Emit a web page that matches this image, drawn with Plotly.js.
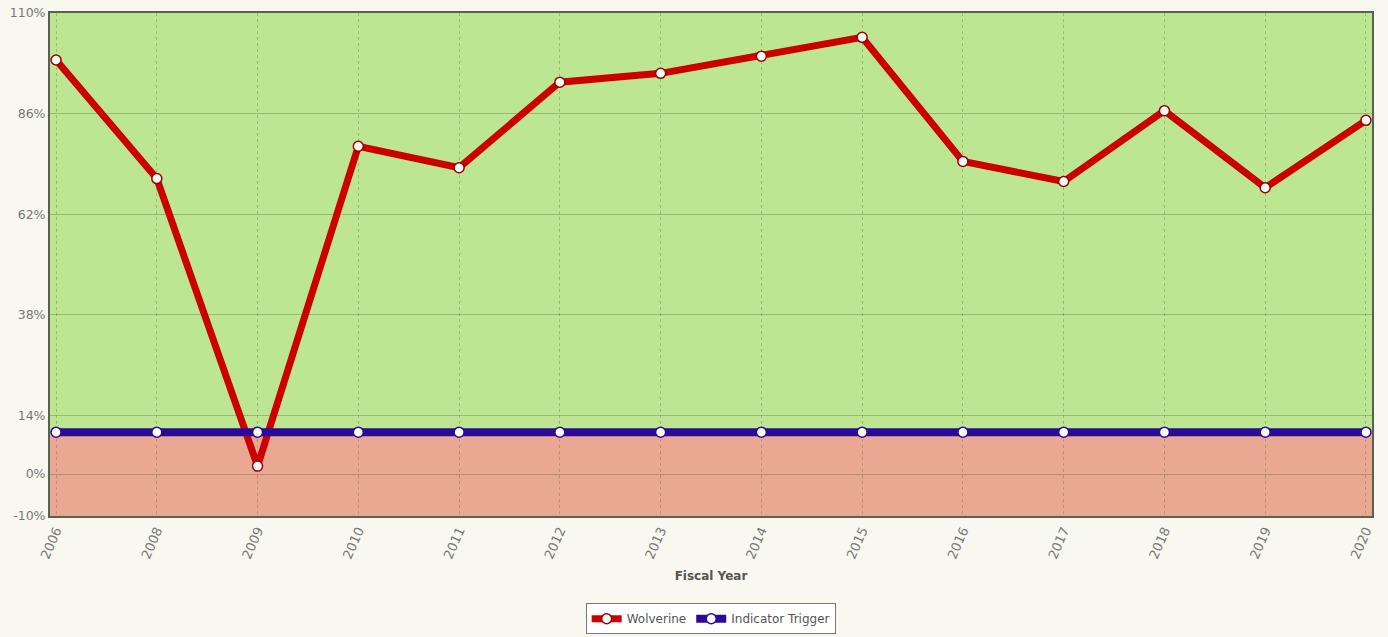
<!DOCTYPE html>
<html><head><meta charset="utf-8">
<script src="https://cdn.plot.ly/plotly-3.0.1.min.js"></script>
<style>html,body{margin:0;padding:0;background:#f8f7f0;}#chart{width:1388px;height:637px;}</style>
</head><body><div id="chart"></div>
<script>
const years = ["2006","2008","2009","2010","2011","2012","2013","2014","2015","2016","2017","2018","2019","2020"];
const wolverine = [98.8, 70.5, 1.9, 78.2, 73.1, 93.5, 95.6, 99.7, 104.2, 74.6, 69.8, 86.7, 68.3, 84.4];
const trigger = [10, 10, 10, 10, 10, 10, 10, 10, 10, 10, 10, 10, 10, 10];
const yTicks = [-10, 0, 14, 38, 62, 86, 110];
const yTickText = ["-10%", "0%", "14%", "38%", "62%", "86%", "110%"];
const triggerLevel = 10;

const traces = [
  {x: years, y: wolverine, name: "Wolverine", type: "scatter", mode: "lines+markers",
   line: {color: "#cc0000", width: 7},
   marker: {color: "#ffffff", size: 10, line: {color: "#9c0000", width: 1.5}}},
  {x: years, y: trigger, name: "Indicator Trigger", type: "scatter", mode: "lines+markers",
   line: {color: "#2a0a96", width: 8},
   marker: {color: "#ffffff", size: 10, line: {color: "#2a0a96", width: 1.5}}}
];

const layout = {
  width: 1388, height: 637,
  paper_bgcolor: "#f8f7f0", plot_bgcolor: "#f8f7f0",
  margin: {l: 50, r: 16, t: 13, b: 121},
  font: {family: "DejaVu Sans, Verdana, sans-serif", size: 12, color: "#666"},
  showlegend: true,
  hovermode: false,
  xaxis: {type: "category", range: [-0.06, 13.06], tickangle: -66,
    showgrid: true, gridcolor: "rgba(90,110,80,0.35)", griddash: "dot", gridwidth: 1,
    showline: true, linecolor: "#58624f", linewidth: 2, mirror: true,
    ticks: "", tickfont: {size: 13, color: "#777"}, automargin: false,
    title: {text: "<b>Fiscal Year</b>", font: {size: 12, color: "#555"}, standoff: 11}},
  yaxis: {range: [-10, 110], tickvals: yTicks, ticktext: yTickText,
    showgrid: true, gridcolor: "rgba(80,100,60,0.35)", gridwidth: 1, zeroline: false,
    showline: true, linecolor: "#58624f", linewidth: 2, mirror: true,
    ticks: "", tickfont: {size: 12.5, color: "#777"}, automargin: false},
  shapes: [
    {type: "rect", xref: "paper", yref: "y", x0: 0, x1: 1, y0: triggerLevel, y1: 110,
     fillcolor: "#bce692", line: {width: 0}, layer: "below"},
    {type: "rect", xref: "paper", yref: "y", x0: 0, x1: 1, y0: -10, y1: triggerLevel,
     fillcolor: "#eaa892", line: {width: 0}, layer: "below"}
  ],
  legend: {orientation: "h", x: 0.512, xanchor: "center", xref: "container",
    y: 0.053, yanchor: "top", yref: "container",
    bgcolor: "#ffffff", bordercolor: "#777", borderwidth: 1,
    font: {size: 12, color: "#555"}, itemwidth: 30}
};

Plotly.newPlot("chart", traces, layout, {displayModeBar: false, staticPlot: true});
</script></body></html>
